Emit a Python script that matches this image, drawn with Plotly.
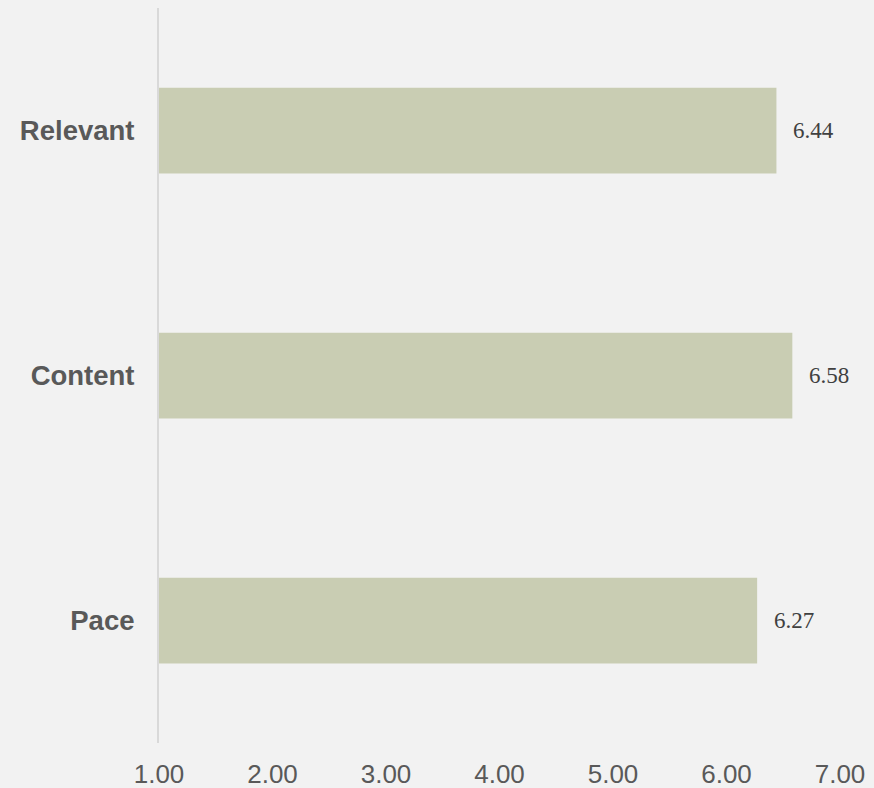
import plotly.graph_objects as go

categories = ["Relevant", "Content", "Pace"]
values = [6.44, 6.58, 6.27]
tick_vals = [1, 2, 3, 4, 5, 6, 7]
tick_text = ["1.00", "2.00", "3.00", "4.00", "5.00", "6.00", "7.00"]

BG = "#f2f2f2"

fig = go.Figure()
fig.add_trace(go.Bar(
    y=categories,
    x=[v - 1 for v in values],
    base=1,
    orientation="h",
    marker=dict(color="#c9cdb3", line=dict(width=0)),
    width=0.35,
    hoverinfo="skip",
))

for c, v in zip(categories, values):
    fig.add_annotation(
        x=v, y=c, text=f"{v:.2f}", showarrow=False,
        xanchor="left", xshift=15,
        font=dict(family="Liberation Serif, Times New Roman, serif", size=23, color="#404040"),
    )

fig.update_layout(
    width=874, height=788,
    paper_bgcolor=BG, plot_bgcolor=BG,
    margin=dict(l=159, r=34, t=8, b=45),
    showlegend=False,
    bargap=0.65,
)
fig.update_xaxes(
    range=[1, 7], tickvals=tick_vals, ticktext=tick_text,
    showgrid=False, zeroline=False, showline=False,
    ticks="outside", ticklen=8, tickcolor="rgba(0,0,0,0)",
    automargin=False,
    tickfont=dict(family="Liberation Sans, Arial, sans-serif", size=26, color="#595959"),
)
fig.update_yaxes(
    categoryorder="array", categoryarray=categories[::-1],
    range=[-0.5, 2.5],
    showgrid=False, zeroline=False,
    showline=True, linecolor="#d9d9d9", linewidth=2,
    ticks="outside", ticklen=17, tickcolor="rgba(0,0,0,0)",
    automargin=False,
    tickfont=dict(family="Liberation Sans, Arial, sans-serif", size=27.5, color="#595959", weight="bold"),
)

fig.write_html(
    "out.html",
    config={"displayModeBar": False},
    post_script="document.body.style.margin='0';document.body.style.background='#f2f2f2';document.documentElement.style.background='#f2f2f2';",
)
